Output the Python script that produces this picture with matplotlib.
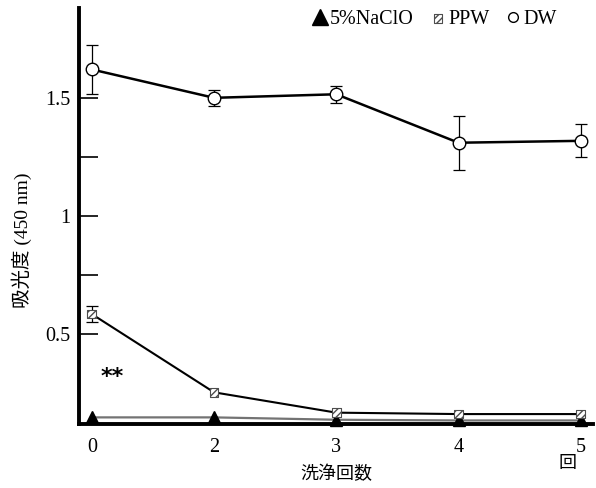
import matplotlib.pyplot as plt
from matplotlib.lines import Line2D

# 洗浄回数ごとの吸光度 (450 nm)
wash_labels = ['0', '2', '3', '4', '5']
x = list(range(len(wash_labels)))

dw = [1.62, 1.50, 1.515, 1.31, 1.318]
dw_err = [0.105, 0.035, 0.036, 0.115, 0.07]

ppw = [0.585, 0.254, 0.168, 0.162, 0.162]
ppw_err = [0.035, 0.0, 0.0, 0.0, 0.0]

naclo = [0.148, 0.148, 0.138, 0.135, 0.135]

serif = ['Liberation Serif', 'Noto Sans CJK JP']
cjk = ['Noto Sans CJK JP', 'Liberation Serif']

fig = plt.figure(figsize=(5.96, 4.88), dpi=100)
ax = fig.add_axes([79/596, 1-424/488, (593-79)/596, (424-8)/488])

# 5%NaClO
ax.plot(x, naclo, color='0.45', lw=1.6, zorder=2)
ax.plot(x, naclo, '^', color='k', ms=9, zorder=4, clip_on=False)

# PPW
ax.errorbar(x[:1], ppw[:1], yerr=ppw_err[:1], fmt='none', ecolor='k',
            elinewidth=0.9, capsize=4, capthick=0.9, zorder=3)
ax.plot(x, ppw, color='k', lw=1.5, zorder=3)
ax.scatter(x, ppw, marker='s', s=40, facecolor='white', edgecolor='0.3',
           hatch='/////', linewidths=0.8, zorder=5, clip_on=False)

# DW
ax.errorbar(x, dw, yerr=dw_err, fmt='none', ecolor='k',
            elinewidth=0.9, capsize=4, capthick=0.9, zorder=3)
ax.plot(x, dw, color='k', lw=1.8, zorder=3)
ax.plot(x, dw, 'o', mfc='white', mec='k', mew=1.0, ms=9, zorder=5)

ax.set_xlim(-0.105, 4.1)
ax.set_ylim(0.12, 1.88)

ax.set_xticks(x)
ax.set_xticklabels(wash_labels, family=serif, fontsize=14.5)
ax.tick_params(axis='x', length=0, pad=10)

ax.set_yticks([0.5, 0.75, 1.0, 1.25, 1.5])
ax.set_yticklabels(['0.5', '', '1', '', '1.5'], family=serif, fontsize=14.5)
ax.tick_params(axis='y', direction='in', length=14, width=1.2, pad=6)

for s in ['top', 'right']:
    ax.spines[s].set_visible(False)
ax.spines['left'].set_linewidth(2.8)
ax.spines['bottom'].set_linewidth(2.8)

ax.set_xlabel('洗浄回数', family=cjk, fontsize=13, labelpad=6)
fig.text(22/596, 1-240/488, '吸光度 (450 nm)', family=serif, fontsize=14,
         rotation=90, ha='center', va='center')
fig.text(568/596, 1-463/488, '回', family=cjk, fontsize=13,
         ha='center', va='center')

ax.text(0.17, 0.32, '**', fontsize=16, fontweight='bold', family='DejaVu Sans',
        ha='center', va='center')

handles = [
    Line2D([], [], marker='^', color='k', ls='none', ms=11),
    ax.scatter([], [], marker='s', s=40, facecolor='white', edgecolor='0.3',
               hatch='/////', linewidths=0.8),
    Line2D([], [], marker='o', mfc='white', mec='k', ls='none', ms=7),
]
ax.legend(handles, ['5%NaClO', 'PPW', 'DW'], loc='upper right',
          bbox_to_anchor=(0.965, 1.04), ncol=3, frameon=False,
          handlelength=0.8, handletextpad=0.1, columnspacing=0.8,
          prop={'family': serif, 'size': 14.5})

fig.savefig('out.png', dpi=100)
